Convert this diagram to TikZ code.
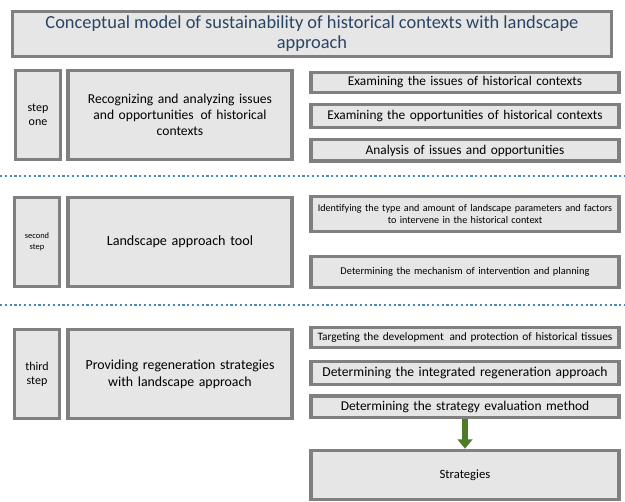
\documentclass[tikz,border=0pt]{standalone}
\usepackage{fontspec}
\setmainfont{Carlito}
\usepackage{xcolor}
\usetikzlibrary{arrows.meta,positioning}

\definecolor{boxfill}{HTML}{E6E6E6}
\definecolor{boxline}{HTML}{808080}
\definecolor{titletext}{HTML}{2A4564}
\definecolor{dotblue}{HTML}{4A86C0}
\definecolor{arrowgreen}{HTML}{4F7A28}

\begin{document}
\begin{tikzpicture}[
  x=0.75pt, y=-0.75pt,
  panel/.style={draw=boxline, fill=boxfill, line width=2.5pt, align=center, inner sep=1pt},
  stepbox/.style={panel, minimum width=34pt, minimum height=67pt, font=\fontsize{9}{10.5}\selectfont},
  mainbox/.style={panel, minimum width=168pt, minimum height=67pt, text width=160pt, font=\fontsize{10.2}{12.2}\selectfont},
  itembox/.style={panel, minimum width=231pt, text width=228pt, font=\fontsize{10}{12}\selectfont},
  separator/.style={dotblue, line width=1.6pt, dash pattern=on 1.6pt off 2pt},
  flow/.style={arrowgreen, line width=4.5pt, -{Triangle[width=11pt, length=7pt]}}
]
\useasboundingbox (0,0) rectangle (625,502);

% title
\node[panel, minimum width=449pt, minimum height=34pt,
  font=\fontsize{13.8}{15}\selectfont, text=titletext] (title) at (312,34)
  {Conceptual model of sustainability of historical contexts with landscape\\approach};

% step one
\node[stepbox] (s1) at (38,115) {step\\one};
\node[mainbox] (m1) at (180,115) {Recognizing and analyzing issues\\and opportunities\, of historical\\contexts};
\node[itembox, minimum height=15pt] (a1) at (465,82.5) {Examining the issues of historical contexts};
\node[itembox, minimum height=17pt] (a2) at (465,116) {Examining the opportunities of historical contexts};
\node[itembox, minimum height=16pt] (a3) at (465,150.5) {Analysis of issues and opportunities};

\draw[separator] (0,176) -- (625,176);

% second step
\node[stepbox, font=\fontsize{6.3}{8}\selectfont] (s2) at (37,242) {second\\step};
\node[mainbox, font=\fontsize{10.6}{12.5}\selectfont] (m2) at (180,242) {Landscape approach tool};
\node[itembox, minimum height=26pt, font=\fontsize{7.6}{9}\selectfont] (b1) at (465,214)
  {Identifying the type and amount of landscape parameters and factors\\to intervene in the historical context};
\node[itembox, minimum height=23pt, font=\fontsize{7.8}{9}\selectfont] (b2) at (465,272)
  {Determining the mechanism of intervention and planning};

\draw[separator] (0,305) -- (625,305);

% third step
\node[stepbox] (s3) at (37,374) {third\\step};
\node[mainbox, font=\fontsize{10.4}{12.5}\selectfont] (m3) at (180,374) {Providing regeneration strategies\\with landscape approach};
\node[itembox, minimum height=15pt, font=\fontsize{8.5}{10}\selectfont] (c1) at (465,337.5)
  {Targeting the development\, and protection of historical tissues};
\node[itembox, minimum height=17pt, font=\fontsize{10.2}{12}\selectfont] (c2) at (465,373)
  {Determining the integrated regeneration approach};
\node[itembox, minimum height=16pt, font=\fontsize{10.1}{12}\selectfont] (c3) at (465,406.5)
  {Determining the strategy evaluation method};

% result
\node[panel, minimum width=231pt, minimum height=37pt, font=\fontsize{9.5}{11}\selectfont] (strat) at (465,475) {Strategies};
\draw[flow] (c3.south) -- (strat.north);
\end{tikzpicture}
\end{document}
